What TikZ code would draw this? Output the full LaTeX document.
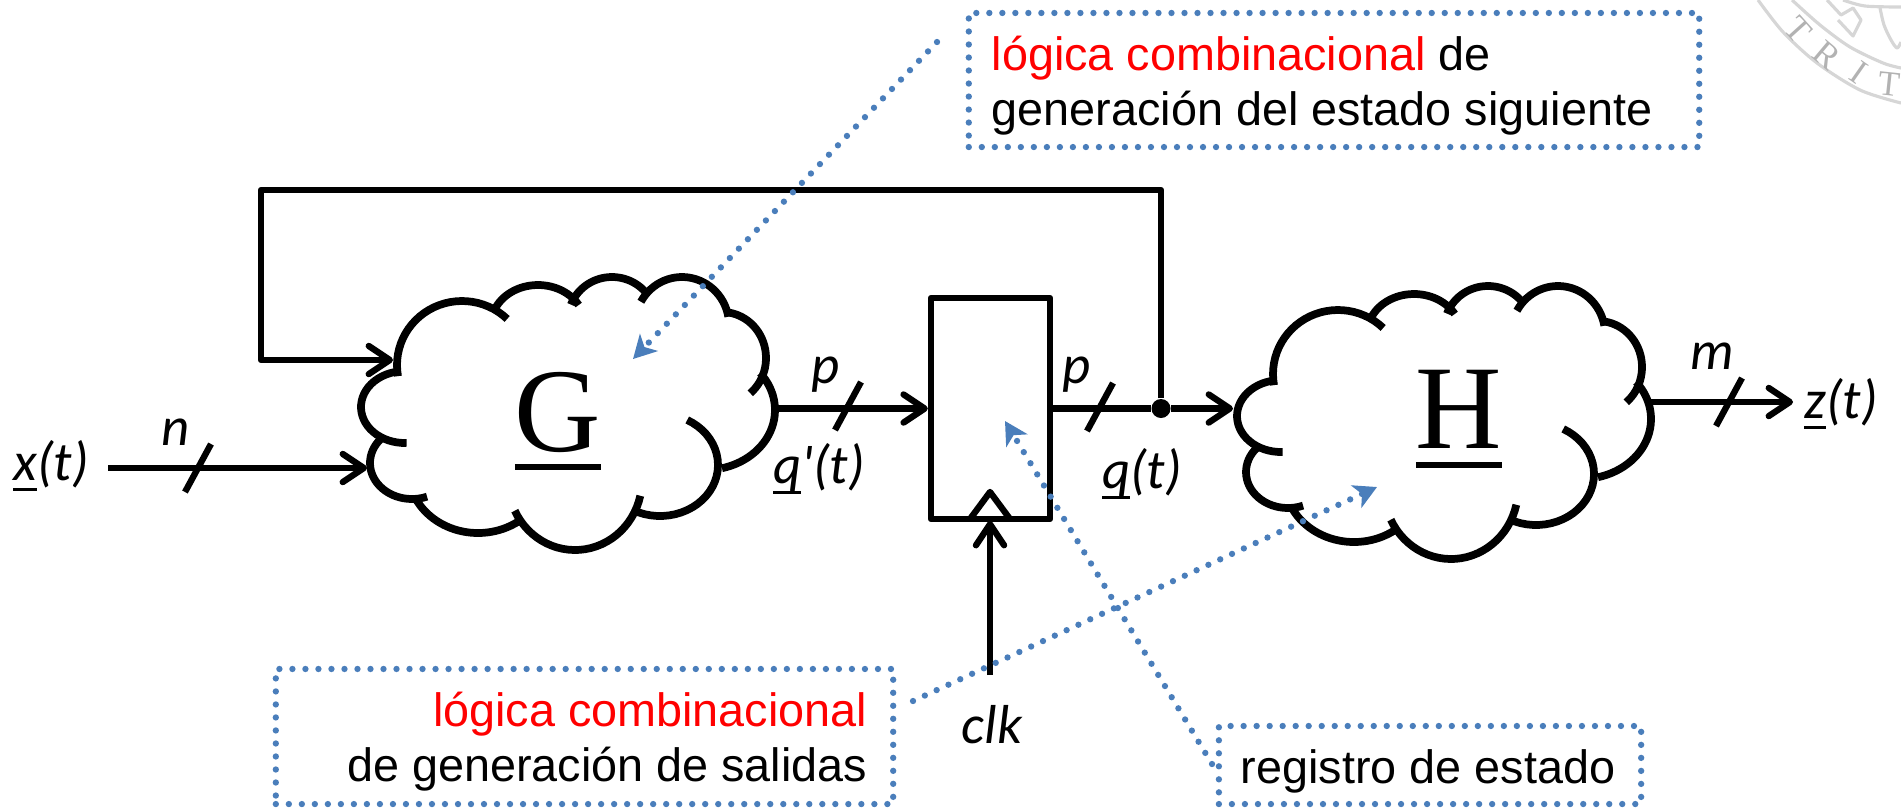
\documentclass[tikz,border=0pt]{standalone}
\usepackage{fontspec}
\setmainfont{Carlito}
\newfontfamily\serifletter{Liberation Serif}
\newfontfamily\notefont{Liberation Sans}
\usetikzlibrary{arrows.meta}

\definecolor{noteblue}{HTML}{4A7EBB}

% rule under a text: gap, thickness, text
\newcommand{\ulbar}[3]{\vtop{\hbox{#3}\kern#1\hrule height #2}}
\newcommand{\ulsig}[1]{\ulbar{2.3pt}{0.9pt}{\smash{#1}}}

\tikzset{
    wire/.style   = {line width=1.8pt, line join=round},
    arrowed/.style = {wire, -{Straight Barb[length=6pt,width=8pt,round]}},
    lobe/.style   = {line width=2.2pt},
    sig/.style    = {font=\fontsize{15.6}{18}\selectfont\itshape, inner sep=0pt, anchor=base},
    letter/.style = {font=\serifletter\fontsize{34}{34}\selectfont, inner sep=0pt, anchor=base},
    dots/.style   = {noteblue, line width=1.8pt, line cap=round, dash pattern=on 0pt off 3.7pt},
    pointer/.style = {dots, -{Stealth[length=6.5pt,width=7pt,inset=1.8pt]}},
    notebox/.style = {draw, dots, inner sep=0pt},
    noteline/.style = {font=\notefont\fontsize{13.3}{16}\selectfont, inner sep=0pt},
    seal/.style   = {black!16, line width=0.9pt, line join=round},
    sealletter/.style = {black!30, font=\serifletter\fontsize{10}{10}\selectfont, inner sep=0pt},
    pics/busmark/.style = {code={\draw[wire] (-13,24) -- (13,-24);}}
}

\begin{document}
\begin{tikzpicture}[x = 0.01cm, y = -0.01cm]

    \useasboundingbox (0,0) rectangle (1901,808);

    % crest in the corner
    \draw[seal] plot[smooth] coordinates {(1758,0) (1783,32) (1817,63) (1860,90) (1901,103)};
    \draw[seal] plot[smooth] coordinates {(1792,0) (1820,25) (1850,47) (1883,63) (1901,68)};
    \draw[seal] (1827,0) -- (1841,15) -- (1853,8) -- (1861,20) -- (1853,36) -- (1838,20);
    \draw[seal] plot[smooth] coordinates {(1880,8) (1884,25) (1891,40) (1897,48) (1901,42)};
    \draw[seal] plot[smooth] coordinates {(1843,0) (1865,6) (1901,7)};
    \node[sealletter, rotate=-48] (sealT) at (1798,30) {T};
    \node[sealletter, rotate=-40] (sealR) at (1827,55) {R};
    \node[sealletter, rotate=-35] (sealI) at (1859,72) {I};
    \node[sealletter, rotate=-6]  (sealS) at (1889,84) {T};

    % both clouds are the same outline, one arc per lobe
    \foreach \dx/\dy in {0/0, 876/9} {
        \begin{scope}[shift={(\dx,\dy)}]
            \foreach \cx/\cy/\rx/\ry/\from/\to in {
                    462/365/65/64/170/314,  538/325/47/40/205/330,  612/320/44/43/201/318,
                    682/325/47/48/209/350,  722/358/44/46/274/410,  705/410/70/60/322/436,
                    660/465/58/51/298/478,  575/480/67/70/13/154,   478/470/70/63/55/154,
                    412/463/42/36/69/228,   405/407/44/36/88/262} {
                \draw[lobe] plot[domain=\from:\to, samples=30] ({\cx+\rx*cos(\x)},{\cy+\ry*sin(\x)});
            }
        \end{scope}
    }
    \node[letter] (G) at (558,451) {\ulbar{3.4pt}{1.7pt}{G}};
    \node[letter] (H) at (1459,448) {\ulbar{3.9pt}{1.7pt}{H}};

    % register with its clock mark
    \node[draw, wire, minimum width=1.19cm, minimum height=2.21cm, inner sep=0pt] (reg) at (990.5,408.5) {};
    \draw[wire] (970,519) -- (990,492) -- (1010,519);

    % free ends of the wires
    \coordinate (xout) at (108,468);
    \coordinate (gin)  at (367,468);
    \coordinate (gfb)  at (393,360);
    \coordinate (gout) at (778,408.5);
    \coordinate (hin)  at (1233,408.5);
    \coordinate (hout) at (1651,402);
    \coordinate (zin)  at (1793,402);
    \coordinate (clkin) at (990,675);
    \coordinate (clkup) at (990,521);
    \coordinate (fbtop) at (1161,190);
    \coordinate (fbleft) at (261,190);
    \coordinate (fbdown) at (261,360);

    \node[circle, fill, inner sep=0pt, minimum size=0.19cm] (fork) at (1161,408.5) {};

    \draw[arrowed] (xout) -- (gin);
    \draw[arrowed] (gout) -- (reg.west |- gout);
    \draw[arrowed] (reg.east |- hin) -- (fork) -- (hin);
    \draw[arrowed] (hout) -- (zin);
    \draw[arrowed] (clkin) -- (clkup);
    \draw[arrowed] (fork) -- (fbtop) -- (fbleft) -- (fbdown) -- (gfb);

    \pic at (198,468) {busmark};
    \pic at (848,406) {busmark};
    \pic at (1100,407) {busmark};
    \pic at (1729,402) {busmark};

    \node[sig] (xlabel)  at (51,480)    {\ulsig{x}(t)};
    \node[sig] (nlabel)  at (176,445)   {n};
    \node[sig] (plabel)  at (826,383)   {p};
    \node[sig] (qnlabel) at (819,483)   {\ulsig{q}\textquotesingle(t)};
    \node[sig] (pqlabel) at (1077,383)  {p};
    \node[sig] (qlabel)  at (1142,488)  {\ulsig{q}(t)};
    \node[sig] (mlabel)  at (1712,369)  {m};
    \node[sig] (zlabel)  at (1841,418)  {\ulsig{z}(t)};
    \node[sig] (clklabel) at (992,743)  {clk};

    % notes
    \node[notebox, minimum width=7.30cm, minimum height=1.34cm] (nextnote) at (1334,80) {};
    \node[noteline, anchor=base west] (nextone) at (991,70) {\textcolor{red}{lógica combinacional} de};
    \node[noteline, anchor=base west] (nexttwo) at (991,125) {generación del estado siguiente};

    \node[notebox, minimum width=6.17cm, minimum height=1.35cm] (outnote) at (584.5,736.5) {};
    \node[noteline, anchor=base east, text=red] (outone) at (868,726) {lógica combinacional};
    \node[noteline, anchor=base east] (outtwo) at (868,781) {de generación de salidas};

    \node[notebox, minimum width=4.22cm, minimum height=0.78cm] (regnote) at (1430,765) {};
    \node[noteline, anchor=base] (regone) at (1428,783) {registro de estado};

    \coordinate (nextstart) at (937,42);
    \coordinate (nexttip)   at (633,359);
    \coordinate (outstart)  at (913,701);
    \coordinate (outtip)    at (1377,487);
    \coordinate (regstart)  at (1212,764);
    \coordinate (regtip)    at (1005,421);

    \draw[pointer] (nextstart) -- (nexttip);
    \draw[pointer] (outstart) -- (outtip);
    \draw[pointer] (regstart) -- (regtip);

\end{tikzpicture}
\end{document}
